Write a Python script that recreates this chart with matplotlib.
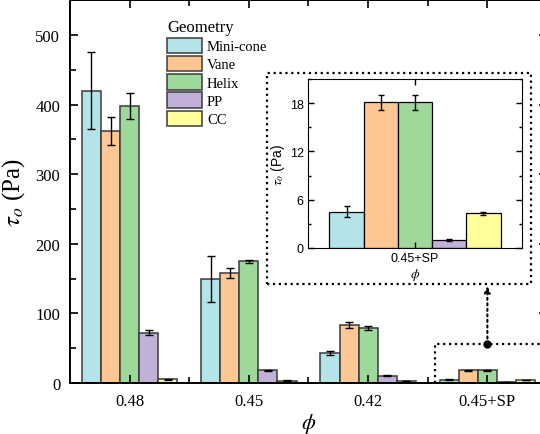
import numpy as np
import matplotlib.pyplot as plt
from matplotlib.patches import Rectangle

plt.rcParams['font.family'] = ['Liberation Serif', 'DejaVu Serif']
plt.rcParams['mathtext.fontset'] = 'stix'

# data
groups = ['0.48', '0.45', '0.42', '0.45+SP']
geometries = ['Mini-cone', 'Vane', 'Helix', 'PP', 'CC']
colors = ['#b4e4e8', '#fdc794', '#9ed89b', '#c1b1d8', '#ffff9c']

mini_cone = [420, 149, 43, 4.5]
vane = [362, 158, 83, 18.1]
helix = [398, 175, 79, 18.1]
pp = [72.5, 18, 10.5, 1.0]
cc = [5.3, 3.5, 3.0, 4.3]

mini_cone_err = [55, 33, 3, 0.7]
vane_err = [20, 7, 4, 0.9]
helix_err = [18, 2, 3, 0.9]
pp_err = [4, 1, 0.8, 0.1]
cc_err = [0.5, 0.4, 0.3, 0.2]

values = [mini_cone, vane, helix, pp, cc]
errors = [mini_cone_err, vane_err, helix_err, pp_err, cc_err]

W, H = 540, 435
fig = plt.figure(figsize=(W / 100, H / 100), dpi=100)
ax = fig.add_axes([70 / W, 1 - 384 / H, 477 / W, 382.8 / H])

x = np.arange(len(groups))
bw = 0.16
for i in range(len(geometries)):
    ax.bar(x + (i - 2) * bw, values[i], bw, yerr=errors[i], color=colors[i],
           edgecolor='#3a3a3a', linewidth=1.1, label=geometries[i],
           error_kw=dict(ecolor='black', elinewidth=1, capsize=3, capthick=1))

ax.set_xlim(-0.5, 3.5)
ax.set_ylim(0, 550)
ax.set_xticks(x)
ax.set_xticklabels(groups)
ax.set_xticks(x[:-1] + 0.5, minor=True)
ax.set_yticks(np.arange(0, 501, 100))
ax.set_yticks(np.arange(50, 551, 100), minor=True)
ax.tick_params(which='both', direction='in', top=True, right=True, labelsize=12)
ax.tick_params(which='major', length=6, width=1.2, pad=7)
ax.tick_params(which='minor', length=4, width=1.2)
for s in ax.spines.values():
    s.set_linewidth(1.4)
ax.set_ylabel(r'$\tau_o$ (Pa)', fontsize=18, labelpad=6)
ax.set_xlabel(r'$\phi$', fontsize=16, labelpad=2)

leg = ax.legend(title='Geometry', loc='upper left', bbox_to_anchor=(167 / W, 1 - 20 / H),
                bbox_transform=fig.transFigure, frameon=False, fontsize=10.5,
                title_fontsize=12, handlelength=2.4, handleheight=1.25,
                labelspacing=0.18, handletextpad=0.35, borderpad=0, borderaxespad=0,
                alignment='left')

# dotted markers linking the 0.45+SP group to the inset
ax.plot([2.56, 2.56, 3.6], [0, 56, 56], ls=':', color='black', lw=1.6, clip_on=True)
ax.plot(3, 56, 'o', color='black', ms=5)
ax.annotate('', xy=(3, 139), xytext=(3, 56),
            arrowprops=dict(arrowstyle='-|>', ls=':', lw=1.5, color='black',
                            mutation_scale=9, shrinkA=0, shrinkB=0))
fig.patches.append(Rectangle((267 / W, 1 - 285 / H), 264 / W, 211 / H,
                             transform=fig.transFigure, fill=True, facecolor='white',
                             edgecolor='black', ls=':', lw=1.6, zorder=3))

# inset
ins = fig.add_axes([308 / W, 1 - 249 / H, 214 / W, 169 / H], zorder=5)
for i in range(len(geometries)):
    ins.bar((i - 2) * bw, values[i][3], bw, yerr=errors[i][3], color=colors[i],
            edgecolor='black', linewidth=0.9,
            error_kw=dict(ecolor='black', elinewidth=1, capsize=2, capthick=1))
ins.set_xlim(-0.5, 0.5)
ins.set_ylim(0, 21)
ins.set_xticks([0])
ins.set_xticklabels(['0.45+SP'], family=['Liberation Sans'])
ins.set_yticks([0, 6, 12, 18])
ins.set_yticks([3, 9, 15, 21], minor=True)
for lab in ins.get_yticklabels():
    lab.set_family(['Liberation Sans'])
ins.tick_params(which='both', direction='in', top=True, right=True, labelsize=9)
ins.tick_params(which='major', length=4, width=1, pad=3)
ins.tick_params(which='minor', length=2.5, width=1)
ins.set_ylabel(r'$\tau_o$ (Pa)', fontsize=10, labelpad=2, family=['Liberation Sans'])
ins.set_xlabel(r'$\phi$', fontsize=10, labelpad=1)

fig.savefig('out.png', dpi=100)
